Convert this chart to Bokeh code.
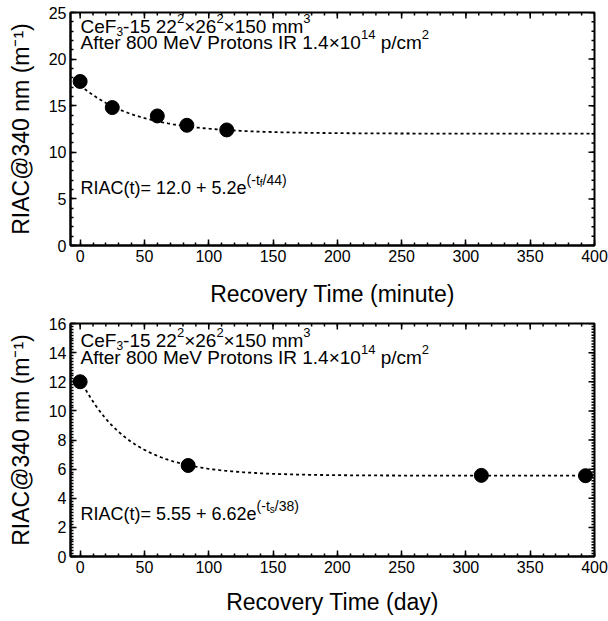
import numpy as np
from bokeh.plotting import figure
from bokeh.models import Range1d, SingleIntervalTicker, Label
from bokeh.layouts import column
from bokeh.embed import file_html
from bokeh.resources import INLINE

# ---------------- data ----------------
minute_time = [0, 25, 60, 83, 114]
minute_riac = [17.6, 14.8, 13.9, 12.9, 12.4]
minute_fit_a, minute_fit_b, minute_fit_tau = 12.0, 5.2, 44.0

day_time = [0, 84, 312, 393]
day_riac = [12.0, 6.25, 5.57, 5.55]
day_fit_a, day_fit_b, day_fit_tau = 5.55, 6.62, 38.0

x_range_minute = (-7.5, 400)
x_range_day = (-7.5, 400)
y_range_minute = (0, 25)
y_range_day = (0, 16)

header_1 = [("CeF", "n"), ("3", "sub"), ("-15 22", "n"), ("2", "sup"), ("\u00d726", "n"), ("2", "sup"),
            ("\u00d7150 mm", "n"), ("3", "sup")]
header_2 = [("After 800 MeV Protons IR 1.4\u00d710", "n"), ("14", "sup"), (" p/cm", "n"), ("2", "sup")]
formula_minute = [("RIAC(t)= 12.0 + 5.2e", "n"), ("(-t", "sup"), ("f", "supsub"), ("/44)", "sup")]
formula_day = [("RIAC(t)= 5.55 + 6.62e", "n"), ("(-t", "sup"), ("s", "supsub"), ("/38)", "sup")]

y_label = "RIAC@340 nm (m\u207b\u00b9)"
x_label_minute = "Recovery Time (minute)"
x_label_day = "Recovery Time (day)"

# ---------------- helpers ----------------
FONT = "Liberation Sans"
W = {' ': 278, '(': 333, ')': 333, '+': 584, '-': 333, '.': 278, '/': 278, '=': 584, '@': 1015,
     'A': 667, 'C': 722, 'E': 667, 'F': 611, 'I': 278, 'M': 833, 'P': 667, 'R': 722, 'T': 611, 'V': 667,
     'a': 556, 'c': 500, 'd': 556, 'e': 556, 'f': 278, 'i': 222, 'm': 833, 'n': 556, 'o': 556, 'p': 556,
     'r': 333, 's': 500, 't': 278, 'u': 556, 'v': 500, 'y': 500, '\u00d7': 584}
for d in "0123456789":
    W[d] = 556


def tw(text, size):
    return sum(W.get(c, 556) for c in text) * size / 1000.0


def rich(p, x0, y0, segs, xoff, yoff, main=19, sup=13, subsz=12, supsub=10):
    styles = {"n": (main, 0), "sup": (sup, 8), "sub": (subsz, -5), "supsub": (supsub, 4)}
    x = xoff
    for text, kind in segs:
        size, dy = styles[kind]
        stripped = text.lstrip(" ")
        x += tw(text[:len(text) - len(stripped)], size)
        p.add_layout(Label(x=x0, y=y0, x_offset=x, y_offset=yoff + dy, text=stripped,
                           text_font=FONT, text_font_size=f"{size}px", text_color="black",
                           text_baseline="alphabetic", text_align="left"))
        x += tw(stripped, size)


def style_axis(ax):
    ax.axis_line_width = 2
    ax.axis_line_color = "black"
    ax.major_tick_in = 6
    ax.major_tick_out = 0
    ax.minor_tick_in = 3
    ax.minor_tick_out = 0
    ax.major_tick_line_width = 1.5
    ax.minor_tick_line_width = 1.5
    ax.major_tick_line_color = "black"
    ax.minor_tick_line_color = "black"


def mirror_ticks(p, xr, yr, x_int, x_minor, y_int, y_minor):
    xs_major = np.arange(0, xr[1] + 1e-9, x_int)
    xs_minor = np.arange(0, xr[1] + 1e-9, x_int / x_minor)
    ys_major = np.arange(yr[0], yr[1] + 1e-9, y_int)
    ys_minor = np.arange(yr[0], yr[1] + 1e-9, y_int / y_minor)
    kw = dict(length_units="screen", line_color="black", line_width=1.5)
    p.ray(x=xs_major, y=yr[1], length=6, angle=-np.pi / 2, **kw)
    p.ray(x=xs_minor, y=yr[1], length=3, angle=-np.pi / 2, **kw)
    p.ray(x=xr[1], y=ys_major, length=6, angle=np.pi, **kw)
    p.ray(x=xr[1], y=ys_minor, length=3, angle=np.pi, **kw)


def make_fig(height, b_top, b_bottom, xr, yr, y_int, y_minor, xlabel, xlabel_standoff,
             times, vals, fa, fb, ftau, header_y, formula, formula_y):
    p = figure(width=608, height=height, x_range=Range1d(*xr), y_range=Range1d(*yr),
               output_backend="svg", toolbar_location=None,
               min_border_left=70, min_border_right=14, min_border_top=b_top, min_border_bottom=b_bottom)
    p.grid.visible = False
    p.background_fill_color = "white"
    p.border_fill_color = "white"
    p.outline_line_color = "black"
    p.outline_line_width = 2
    p.outline_line_alpha = 1

    p.xaxis.ticker = SingleIntervalTicker(interval=50, num_minor_ticks=5)
    p.yaxis.ticker = SingleIntervalTicker(interval=y_int, num_minor_ticks=y_minor)
    for ax in (p.xaxis[0], p.yaxis[0]):
        style_axis(ax)
        ax.major_label_text_font = FONT
        ax.major_label_text_font_size = "16px"
        ax.major_label_text_color = "black"
        ax.axis_label_text_font = FONT
        ax.axis_label_text_font_size = "23px"
        ax.axis_label_text_font_style = "normal"
        ax.axis_label_text_color = "black"
    p.xaxis.axis_label = xlabel
    p.yaxis.axis_label = y_label
    p.xaxis.major_label_standoff = 4
    p.xaxis.axis_label_standoff = xlabel_standoff
    p.yaxis.major_label_standoff = 4
    p.yaxis.axis_label_standoff = 12

    mirror_ticks(p, xr, yr, 50, 5, y_int, y_minor)

    t = np.linspace(0, xr[1], 300)
    p.line(t, fa + fb * np.exp(-t / ftau), line_color="black", line_width=1.8, line_dash="3 3")
    p.scatter(times, vals, size=14, color="black")

    x0, y0 = xr[0], yr[1]
    rich(p, x0, y0, header_1, 10, -header_y[0])
    rich(p, x0, y0, header_2, 10, -header_y[1])
    rich(p, x0, y0, formula, 10, -formula_y, main=18, sup=14, supsub=10)
    return p


p1 = make_fig(310, 12, 65, x_range_minute, y_range_minute, 5, 5, x_label_minute, 16,
              minute_time, minute_riac, minute_fit_a, minute_fit_b, minute_fit_tau,
              (14, 30), formula_minute, 175)
p2 = make_fig(311, 13, 65, x_range_day, y_range_day, 2, 10, x_label_day, 13,
              day_time, day_riac, day_fit_a, day_fit_b, day_fit_tau,
              (17, 34), formula_day, 190)

layout = column(p1, p2)
open("out.html", "w").write(file_html(layout, INLINE))
